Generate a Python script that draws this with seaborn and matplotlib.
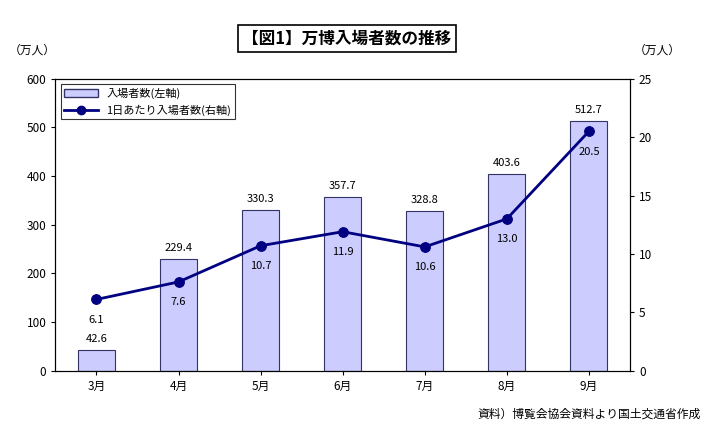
import numpy as np
import pandas as pd
import seaborn as sns
import matplotlib.pyplot as plt
from matplotlib.lines import Line2D
from matplotlib.patches import Patch

plt.rcParams['font.family'] = 'Noto Sans CJK JP'

# データ
months = ['3月', '4月', '5月', '6月', '7月', '8月', '9月']
visitors = [42.6, 229.4, 330.3, 357.7, 328.8, 403.6, 512.7]
daily = [6.1, 7.6, 10.7, 11.9, 10.6, 13.0, 20.5]

df = pd.DataFrame({'month': months, 'visitors': visitors, 'daily': daily, 'pos': np.arange(len(months))})

fig = plt.figure(figsize=(7.11, 4.26), dpi=100)
ax = fig.add_axes([0.078, 0.13, 0.808, 0.685])

sns.barplot(data=df, x='month', y='visitors', color='#ccccff', edgecolor='#333366',
            linewidth=0.8, width=0.45, saturation=1, ax=ax)
ax.set_ylim(0, 600)
ax.set_yticks(range(0, 601, 100))
ax.set_xlabel('')
ax.set_ylabel('')
for i, v in enumerate(visitors):
    ax.text(i, v + 12, f'{v:.1f}', ha='center', va='bottom', fontsize=8)

ax2 = ax.twinx()
sns.lineplot(data=df, x='pos', y='daily', color='#000080', marker='o', markersize=7,
             markeredgecolor='#000080', linewidth=2, ax=ax2)
ax2.set_ylim(0, 25)
ax2.set_yticks(range(0, 26, 5))
ax2.set_ylabel('')
ax2.set_xlim(-0.5, len(months) - 0.5)
for i, v in enumerate(daily):
    ax2.text(i, v - 1.3, f'{v:.1f}', ha='center', va='top', fontsize=8)

for a in (ax, ax2):
    a.tick_params(labelsize=8.5, length=3)
    for s in a.spines.values():
        s.set_linewidth(0.8)

handles = [Patch(facecolor='#ccccff', edgecolor='#333366', label='入場者数(左軸)'),
           Line2D([0], [0], color='#000080', marker='o', lw=2, label='1日あたり入場者数(右軸)')]
leg = ax2.legend(handles=handles, loc='upper left', fontsize=8, frameon=True, fancybox=False,
                 edgecolor='black', borderpad=0.3, handlelength=3)
leg.get_frame().set_linewidth(0.8)

fig.text(0.488, 0.91, '【図1】万博入場者数の推移', ha='center', va='center', fontsize=12,
         fontweight='bold', bbox=dict(facecolor='white', edgecolor='black', linewidth=1.2, pad=3))
fig.text(0.045, 0.875, '（万人）', ha='center', fontsize=8.5)
fig.text(0.925, 0.875, '（万人）', ha='center', fontsize=8.5)
fig.text(0.985, 0.02, '資料）博覧会協会資料より国土交通省作成', ha='right', fontsize=8.5)

plt.savefig('out.png', dpi=100)
plt.close()
